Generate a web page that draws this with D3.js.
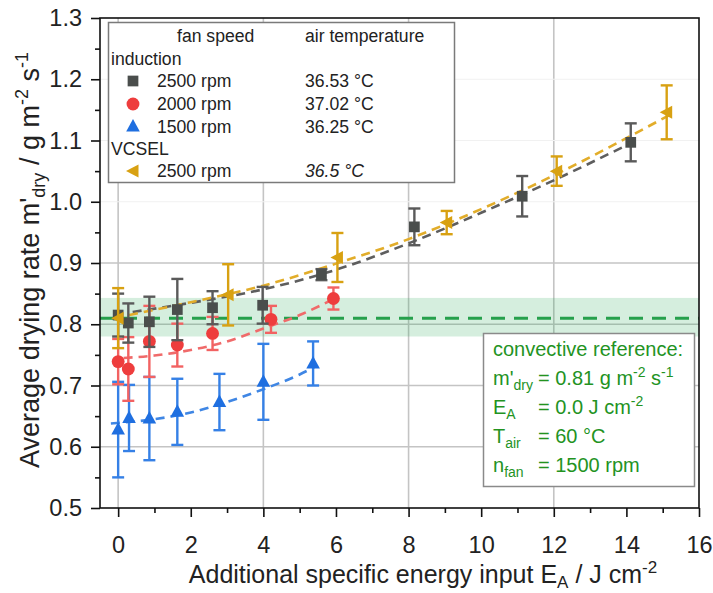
<!DOCTYPE html>
<html>
<head>
<meta charset="utf-8">
<script src="https://cdn.jsdelivr.net/npm/d3@7"></script>
<style>
  body { margin: 0; background: #fff; }
  svg { font-family: "Liberation Sans", Arial, sans-serif; }
</style>
</head>
<body>
<div id="chart"></div>
<script>
// Induction, 2500 rpm (grey squares)
const ind2500E   = [0, 0.28, 0.86, 1.63, 2.6, 3.98, 5.6, 8.16, 11.13, 14.12];
const ind2500V   = [0.815, 0.802, 0.804, 0.824, 0.827, 0.831, 0.881, 0.959, 1.009, 1.097];
const ind2500Err = [0.035, 0.032, 0.041, 0.05, 0.027, 0.03, 0.009, 0.03, 0.033, 0.031];

// Induction, 2000 rpm (red circles)
const ind2000E   = [0, 0.28, 0.86, 1.63, 2.6, 4.21, 5.93];
const ind2000V   = [0.739, 0.727, 0.772, 0.766, 0.785, 0.808, 0.842];
const ind2000Err = [0.037, 0.052, 0.058, 0.035, 0.027, 0.022, 0.018];

// Induction, 1500 rpm (blue triangles)
const ind1500E   = [0, 0.3, 0.86, 1.63, 2.79, 4.0, 5.37];
const ind1500V   = [0.628, 0.647, 0.646, 0.657, 0.673, 0.706, 0.736];
const ind1500Err = [0.078, 0.054, 0.068, 0.054, 0.046, 0.062, 0.036];

// VCSEL, 2500 rpm (gold left triangles)
const vcselE   = [0, 3.03, 6.04, 9.05, 12.08, 15.11];
const vcselV   = [0.81, 0.848, 0.909, 0.966, 1.05, 1.146];
const vcselErr = [0.049, 0.05, 0.04, 0.019, 0.024, 0.044];

// dashed trend lines
const fit2500E  = [0.4, 2, 4, 6, 8, 10, 12, 14.1];
const fit2500V  = [0.82, 0.835, 0.857, 0.889, 0.932, 0.982, 1.035, 1.095];
const fit2000E  = [0.15, 1, 2, 3, 4, 5, 6];
const fit2000V  = [0.745, 0.749, 0.758, 0.772, 0.793, 0.815, 0.843];
const fit1500E  = [-0.2, 1, 2, 3, 4, 5, 5.4];
const fit1500V  = [0.638, 0.645, 0.656, 0.673, 0.694, 0.718, 0.73];
const fitVcselE = [0.3, 2, 4, 6, 8, 10, 12, 15.2];
const fitVcselV = [0.815, 0.836, 0.863, 0.899, 0.939, 0.988, 1.043, 1.142];

// convective reference
const refRate = 0.81;
const refBand = [0.78, 0.843];

const xTicks = [0, 2, 4, 6, 8, 10, 12, 14, 16];
const yTicks = [0.5, 0.6, 0.7, 0.8, 0.9, 1.0, 1.1, 1.2, 1.3];
const xGrid = [0, 4, 8, 12];
const yGrid = [0.6, 0.7, 0.8, 0.9];
const yGridFaint = [1.0, 1.1, 1.2];

const width = 713, height = 593;
const padding = {top: 18, right: 14, bottom: 85, left: 100};

const svg = d3.select("#chart").append("svg")
    .attr("width", width)
    .attr("height", height);

const x = d3.scaleLinear().domain([-0.5, 16]).range([padding.left, width - padding.right]);
const y = d3.scaleLinear().domain([0.5, 1.3]).range([height - padding.bottom, padding.top]);

const col = {
    grey: "#4a4e4c", greyLine: "#5e5e5e",
    red: "#ee3d3d", redLine: "#f06a6a",
    blue: "#1f6fe0", blueLine: "#3f86e4",
    gold: "#d8a112", goldLine: "#e2ad2a",
    green: "#26a04c", greenText: "#23931f"
};

// grid
svg.selectAll(".vgrid").data(xGrid).enter().append("line")
    .attr("x1", d => x(d)).attr("x2", d => x(d))
    .attr("y1", y(1.3)).attr("y2", y(0.5))
    .attr("stroke", "#c4c4c4").attr("stroke-width", 1.6);
svg.selectAll(".hgrid").data(yGrid).enter().append("line")
    .attr("x1", x(-0.5)).attr("x2", x(16))
    .attr("y1", d => y(d)).attr("y2", d => y(d))
    .attr("stroke", "#c4c4c4").attr("stroke-width", 1.6);
svg.selectAll(".hgridf").data(yGridFaint).enter().append("line")
    .attr("x1", x(-0.5)).attr("x2", x(16))
    .attr("y1", d => y(d)).attr("y2", d => y(d))
    .attr("stroke", "#f1f1f1").attr("stroke-width", 1.2);

// reference band and line
svg.append("rect")
    .attr("x", x(-0.5)).attr("width", x(16) - x(-0.5))
    .attr("y", y(refBand[1])).attr("height", y(refBand[0]) - y(refBand[1]))
    .attr("fill", "#2ea85a").attr("fill-opacity", 0.2);
svg.append("line")
    .attr("x1", x(-0.5)).attr("x2", x(16))
    .attr("y1", y(refRate)).attr("y2", y(refRate))
    .attr("stroke", col.green).attr("stroke-width", 3)
    .attr("stroke-dasharray", "14,9");

// trend lines
const line = d3.line().x(d => x(d[0])).y(d => y(d[1])).curve(d3.curveMonotoneX);
const fits = [
    [fit2500E, fit2500V, col.greyLine],
    [fitVcselE, fitVcselV, col.goldLine],
    [fit2000E, fit2000V, col.redLine],
    [fit1500E, fit1500V, col.blueLine]
];
fits.forEach(f => {
    svg.append("path")
        .datum(f[0].map((e, i) => [e, f[1][i]]))
        .attr("d", line)
        .attr("fill", "none")
        .attr("stroke", f[2]).attr("stroke-width", 2.6)
        .attr("stroke-dasharray", "9,6");
});

// series
const sq = d3.symbol().type(d3.symbolSquare).size(115)();
const circ = d3.symbol().type(d3.symbolCircle).size(130)();
const triUp = "M0,-7.5L6.8,5L-6.8,5Z";
const triLeft = "M-7,0L5.5,-6.5L5.5,6.5Z";

const series = [
    {e: ind1500E, v: ind1500V, err: ind1500Err, color: col.blue, bar: "#3580e6", shape: triUp},
    {e: ind2000E, v: ind2000V, err: ind2000Err, color: col.red, bar: "#f26262", shape: circ},
    {e: ind2500E, v: ind2500V, err: ind2500Err, color: col.grey, bar: "#5a5a5a", shape: sq},
    {e: vcselE, v: vcselV, err: vcselErr, color: col.gold, bar: col.gold, shape: triLeft}
];

series.forEach(s => {
    const pts = s.e.map((e, i) => ({e: e, v: s.v[i], err: s.err[i]}));
    const g = svg.append("g");
    const eb = g.selectAll(".eb").data(pts).enter().append("g");
    eb.append("line")
        .attr("x1", d => x(d.e)).attr("x2", d => x(d.e))
        .attr("y1", d => y(d.v + d.err)).attr("y2", d => y(d.v - d.err))
        .attr("stroke", s.bar).attr("stroke-width", 2.4);
    [1, -1].forEach(sign => {
        eb.append("line")
            .attr("x1", d => x(d.e) - 6).attr("x2", d => x(d.e) + 6)
            .attr("y1", d => y(d.v + sign * d.err)).attr("y2", d => y(d.v + sign * d.err))
            .attr("stroke", s.bar).attr("stroke-width", 2.4);
    });
    g.selectAll(".pt").data(pts).enter().append("path")
        .attr("d", s.shape)
        .attr("transform", d => "translate(" + x(d.e) + "," + y(d.v) + ")")
        .attr("fill", s.color);
});

// axes
const xAxis = d3.axisBottom(x).tickValues(xTicks).tickSize(9).tickPadding(19).tickFormat(d3.format("d"));
const yAxis = d3.axisLeft(y).tickValues(yTicks).tickSize(9).tickPadding(9).tickFormat(d3.format(".1f"));

const gx = svg.append("g")
    .attr("transform", "translate(0," + (height - padding.bottom) + ")")
    .call(xAxis);
gx.append("g").call(d3.axisBottom(x).tickValues(d3.range(1, 16, 2)).tickSize(5).tickFormat(""));

const gy = svg.append("g")
    .attr("transform", "translate(" + padding.left + ",0)")
    .call(yAxis);
gy.append("g").call(d3.axisLeft(y).tickValues([0.55, 0.65, 0.75, 0.85, 0.95, 1.05, 1.15, 1.25]).tickSize(5).tickFormat(""));

[gx, gy].forEach(g => {
    g.selectAll("path.domain").remove();
    g.selectAll("line").attr("stroke", "#111").attr("stroke-width", 1.6);
    g.selectAll("text").attr("font-size", 23.5).attr("fill", "#222")
        .attr("font-family", "'Liberation Sans', Arial, sans-serif");
});

// legend box
const lg = svg.append("g");
lg.append("rect")
    .attr("x", 108.5).attr("y", 22.5).attr("width", 346).attr("height", 160)
    .attr("fill", "#fff").attr("stroke", "#7a7a7a").attr("stroke-width", 1.5);

const legendHeader = ["fan speed", "air temperature"];
const legendGroups = ["induction", "VCSEL"];
const legendSpeeds = ["2500 rpm", "2000 rpm", "1500 rpm", "2500 rpm"];
const legendTemps = ["36.53 °C", "37.02 °C", "36.25 °C", "36.5 °C"];

const lfs = 17.6;
lg.append("text").attr("x", 177).attr("y", 42).attr("font-size", lfs).attr("fill", "#222").text(legendHeader[0]);
lg.append("text").attr("x", 305).attr("y", 42).attr("font-size", lfs).attr("fill", "#222").text(legendHeader[1]);
lg.append("text").attr("x", 111).attr("y", 65).attr("font-size", lfs).attr("fill", "#222").text(legendGroups[0]);
lg.append("text").attr("x", 111).attr("y", 155).attr("font-size", lfs).attr("fill", "#222").text(legendGroups[1]);

const rowY = [87, 110, 132.5, 177];
const rowShape = [sq, circ, triUp, triLeft];
const rowColor = [col.grey, col.red, col.blue, col.gold];
rowY.forEach((ry, i) => {
    lg.append("path").attr("d", rowShape[i])
        .attr("transform", "translate(133," + (ry - 6) + ")")
        .attr("fill", rowColor[i]);
    lg.append("text").attr("x", 157).attr("y", ry).attr("font-size", lfs).attr("fill", "#222").text(legendSpeeds[i]);
    lg.append("text").attr("x", 305).attr("y", ry).attr("font-size", lfs).attr("fill", "#222")
        .attr("font-style", i === 3 ? "italic" : "normal")
        .text(legendTemps[i]);
});

// convective reference box
const cb = svg.append("g");
cb.append("rect")
    .attr("x", 483.5).attr("y", 333.5).attr("width", 211).attr("height", 153)
    .attr("fill", "#fff").attr("stroke", "#8a8a8a").attr("stroke-width", 1.5);
const cfs = 20;
function ctext(xp, yp) {
    return cb.append("text").attr("x", xp).attr("y", yp).attr("font-size", cfs).attr("fill", col.greenText);
}
ctext(493, 356).text("convective reference:");
let t = ctext(493, 385);
t.append("tspan").text("m'");
t.append("tspan").attr("font-size", 14).attr("dy", 5).text("dry");
t = ctext(538, 385);
t.append("tspan").text("= 0.81 g m");
t.append("tspan").attr("font-size", 14).attr("dy", -8).text("-2");
t.append("tspan").attr("dy", 8).text(" s");
t.append("tspan").attr("font-size", 14).attr("dy", -8).text("-1");
t = ctext(493, 414);
t.append("tspan").text("E");
t.append("tspan").attr("font-size", 14).attr("dy", 5).text("A");
t = ctext(538, 414);
t.append("tspan").text("= 0.0 J cm");
t.append("tspan").attr("font-size", 14).attr("dy", -8).text("-2");
t = ctext(493, 443);
t.append("tspan").text("T");
t.append("tspan").attr("font-size", 14).attr("dy", 5).text("air");
ctext(538, 443).text("= 60 °C");
t = ctext(493, 472);
t.append("tspan").text("n");
t.append("tspan").attr("font-size", 14).attr("dy", 5).text("fan");
ctext(538, 472).text("= 1500 rpm");

// frame
svg.append("rect")
    .attr("x", padding.left).attr("y", padding.top)
    .attr("width", width - padding.left - padding.right)
    .attr("height", height - padding.top - padding.bottom)
    .attr("fill", "none").attr("stroke", "#111").attr("stroke-width", 1.6);

// axis titles
const xt = svg.append("text")
    .attr("x", 423).attr("y", 583)
    .attr("text-anchor", "middle").attr("font-size", 25).attr("fill", "#222");
xt.append("tspan").text("Additional specific energy input E");
xt.append("tspan").attr("font-size", 17).attr("dy", 5).text("A");
xt.append("tspan").attr("dy", -5).text(" / J cm");
xt.append("tspan").attr("font-size", 17).attr("dy", -10).text("-2");

const yt = svg.append("text")
    .attr("transform", "translate(39,260) rotate(-90)")
    .attr("text-anchor", "middle").attr("font-size", 27).attr("fill", "#222");
yt.append("tspan").text("Average drying rate m'");
yt.append("tspan").attr("font-size", 18).attr("dy", 6).text("dry");
yt.append("tspan").attr("dy", -6).text(" / g m");
yt.append("tspan").attr("font-size", 18).attr("dy", -11).text("-2");
yt.append("tspan").attr("dy", 11).text(" s");
yt.append("tspan").attr("font-size", 18).attr("dy", -11).text("-1");
</script>
</body>
</html>
